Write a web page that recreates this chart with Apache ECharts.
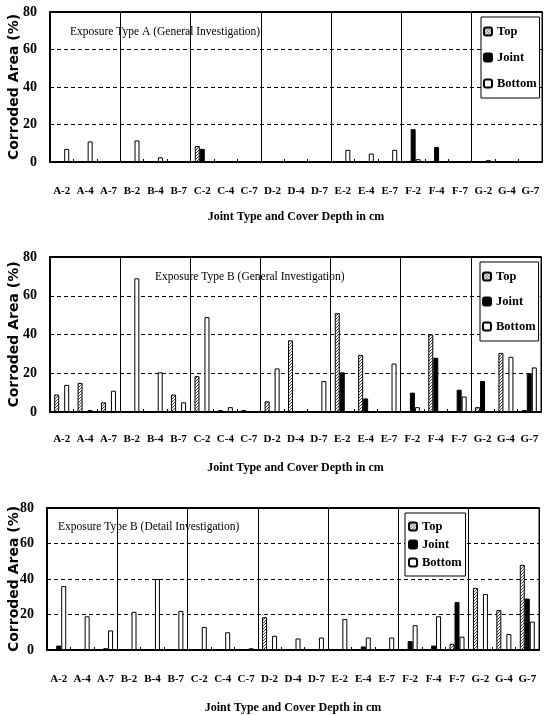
<!DOCTYPE html>
<html>
<head>
<meta charset="utf-8">
<script src="https://cdn.jsdelivr.net/npm/echarts@6/dist/echarts.min.js"></script>
<style>html,body{margin:0;padding:0;background:#fff;}#c{width:544px;height:715px;}</style>
</head>
<body>
<div id="c"></div>
<script>
const categories = ['A-2','A-4','A-7','B-2','B-4','B-7','C-2','C-4','C-7','D-2','D-4','D-7','E-2','E-4','E-7','F-2','F-4','F-7','G-2','G-4','G-7'];
const yTicks = [0, 20, 40, 60, 80];

// Panel 1: Exposure Type A (General Investigation)
const topA    = [0,0,0, 0,0,0, 8.5,0,0, 0,0,0, 0,0,0, 0,0,0, 0,0,0];
const jointA  = [0,0,0, 0,0,0, 7,0,0, 0,0,0, 0,0,0, 17.5,8,0, 0,0,0];
const bottomA = [7,11,0, 11.5,2.5,0, 0,0,0, 0,0,0, 6.5,4.5,6.5, 1.5,0,0, 1,0,0];

// Panel 2: Exposure Type B (General Investigation)
const topB    = [9,15,5, 0,0,9, 18.5,1,1, 5.5,37,0, 51,29.5,0, 0,40,0, 2.5,30.5,1];
const jointB  = [0,0,0, 0,0,0, 0,0,0, 0,0,0, 20.5,7,0, 10,28,11.5, 16,0,20];
const bottomB = [14,1,11, 69,20.5,5, 49,2.5,0, 22.5,0,16, 0,0,25, 2.5,0,8, 0,28.5,23];

// Panel 3: Exposure Type B (Detail Investigation)
const topD    = [0,0,0, 0,0,0, 0,0,0, 18.5,0,0, 0,0,0, 0,0,3.5, 35,22.5,48];
const jointD  = [2.5,0,1, 0,0,0, 0,0,0, 0,0,0, 0,2,0, 5,2.5,27, 0,0,29];
const bottomD = [36,19,11, 21.5,40,22, 13,10,1, 8,6.5,7, 17.5,7,7, 14,19,7.5, 31.5,9,16];

const panelTitles = ['Exposure Type A (General Investigation)', 'Exposure Type B (General Investigation)', 'Exposure Type B (Detail Investigation)'];
const seriesNames = ['Top', 'Joint', 'Bottom'];
const xName = 'Joint Type and Cover Depth in cm';
const yName = 'Corroded Area (%)';

// hatch pattern for "Top"
const pc = document.createElement('canvas');
pc.width = 3; pc.height = 3;
const px = pc.getContext('2d');
px.fillStyle = '#fff'; px.fillRect(0,0,3,3);
px.fillStyle = '#444';
px.fillRect(0,0,1,1); px.fillRect(2,1,1,1); px.fillRect(1,2,1,1);
const hatch = {image: pc, repeat: 'repeat'};

const panels = [
  {data:[topA, jointA, bottomA], grid:{left:50, top:12, width:492, height:150}, title:{left:70, top:26},
   legend:{left:481, top:17, itemGap:13, padding:[8,3,8,2]}, labelMargin:24, nameGap:49},
  {data:[topB, jointB, bottomB], grid:{left:50, top:257, width:491, height:155}, title:{left:155, top:271},
   legend:{left:480, top:262, itemGap:12, padding:[8,3,8,2]}, labelMargin:22, nameGap:50},
  {data:[topD, jointD, bottomD], grid:{left:47, top:508, width:492, height:142}, title:{left:58, top:521},
   legend:{left:405, top:513, itemGap:5, padding:[7,4,7,3]}, labelMargin:24, nameGap:52}
];

const serif = 'Liberation Serif';
const option = {
  backgroundColor: '#fff',
  animation: false,
  grid: [], xAxis: [], yAxis: [], series: [], title: [], legend: []
};
const fills = [hatch, '#000', '#fff'];

panels.forEach((p, i) => {
  option.grid.push(Object.assign({show:true, borderColor:'#000', borderWidth:1, backgroundColor:'#fff', containLabel:false, outerBoundsMode:'none'}, p.grid));
  option.xAxis.push({
    type:'category', gridIndex:i, data:categories, position:'bottom',
    boundaryGap:true,
    name:xName, nameLocation:'middle', nameGap:p.nameGap, nameMoveOverlap:false,
    nameTextStyle:{fontFamily:serif, fontWeight:'bold', fontSize:12, color:'#000'},
    axisLine:{show:true, lineStyle:{color:'#000', width:2}},
    axisTick:{show:true, inside:true, length:3, interval:0, lineStyle:{color:'#000'}},
    axisLabel:{interval:0, margin:p.labelMargin, fontFamily:serif, fontWeight:'bold', fontSize:11, color:'#000'},
    splitLine:{show:true, interval:function(idx){return idx>0 && idx%3===0;}, lineStyle:{color:'#000', width:1}}
  });
  option.xAxis.push({
    type:'category', gridIndex:i, data:categories, position:'top',
    axisLine:{show:true, lineStyle:{color:'#000', width:2}},
    axisTick:{show:false}, axisLabel:{show:false}, splitLine:{show:false}
  });
  option.yAxis.push({
    type:'value', gridIndex:i, min:yTicks[0], max:yTicks[yTicks.length-1], interval:20,
    name:yName, nameLocation:'middle', nameGap:p.grid.left - 21, nameMoveOverlap:false,
    nameTextStyle:{fontFamily:'DejaVu Sans', fontWeight:'bold', fontSize:14, color:'#000'},
    axisLine:{show:true, lineStyle:{color:'#000', width:2}},
    axisTick:{show:false},
    axisLabel:{margin:13, fontFamily:serif, fontWeight:'bold', fontSize:14, color:'#000'},
    splitLine:{show:true, lineStyle:{color:'#000', width:1, type:[4,3]}}
  });
  option.title.push({
    text: panelTitles[i], left:p.title.left, top:p.title.top, padding:0,
    textStyle:{fontFamily:serif, fontWeight:'normal', fontSize:11.5, color:'#000'}
  });
  option.legend.push(Object.assign({
    orient:'vertical', data:seriesNames, itemWidth:8, itemHeight:8,
    backgroundColor:'#fff', borderColor:'#000', borderWidth:1,
    textStyle:{fontFamily:serif, fontWeight:'bold', fontSize:12.5, color:'#000'},
    selectedMode:false
  }, p.legend));
  seriesNames.forEach((nm, k) => {
    option.series.push({
      type:'bar', name:nm, xAxisIndex:i*2, yAxisIndex:i,
      data:p.data[k], barWidth:5, barGap:'0%',
      itemStyle:{color:fills[k], borderColor:'#000', borderWidth:1},
      emphasis:{disabled:true}
    });
  });
});

const chart = echarts.init(document.getElementById('c'), null, {renderer:'canvas'});
chart.setOption(option);
</script>
</body>
</html>
